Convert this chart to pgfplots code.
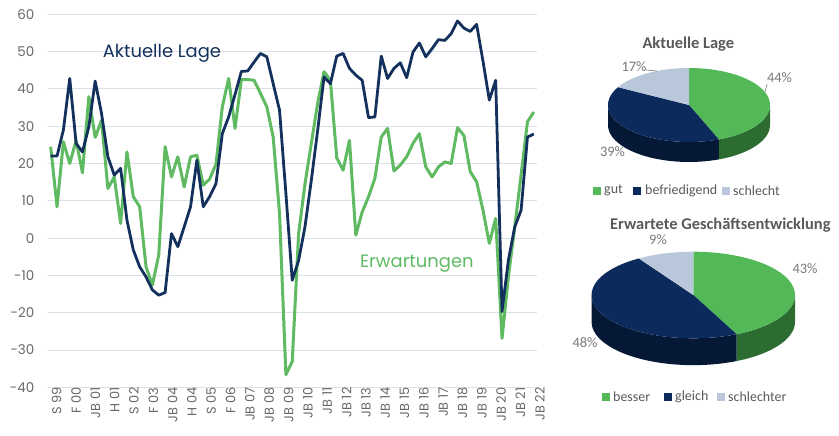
\documentclass[border=0pt]{standalone}
\usepackage{fontspec}
\setmainfont{Poppins}
\newfontfamily\carlito{Carlito}
\usepackage{pgfplots}
\pgfplotsset{compat=1.18}
\usepackage{pgfplotstable}
\definecolor{navy}{RGB}{19,49,92}
\definecolor{lgreen}{RGB}{95,186,98}
\definecolor{axgray}{RGB}{105,105,105}
\definecolor{gridc}{RGB}{217,225,235}
\definecolor{pgreen}{RGB}{82,184,88}
\definecolor{pgreenside}{RGB}{44,108,48}
\definecolor{pnavy}{RGB}{12,43,92}
\definecolor{pnavyside}{RGB}{5,24,54}
\definecolor{plight}{RGB}{184,199,217}
\definecolor{lblgray}{RGB}{120,120,120}
\definecolor{ttlgray}{RGB}{89,89,89}

\pgfplotstableread{
i lage erw
0 22 24.5
1 22 8.4
2 29 25.8
3 42.8 20
4 25.4 26.2
5 23.1 17.5
6 29.8 37.9
7 42.1 27
8 33.4 31.6
9 21.8 13.3
10 16.9 16.4
11 18.7 3.9
12 4.8 23.1
13 -3.2 11.1
14 -7.7 8.4
15 -10.4 -7.7
16 -13.9 -12.6
17 -15.3 -4.5
18 -14.6 24.5
19 1.2 16.4
20 -2.3 21.8
21 3 13.7
22 8.4 21.8
23 20.9 22.2
24 8.4 14.2
25 11.1 15.8
26 14.6 19.8
27 28 35.2
28 32.5 42.8
29 38.5 29.4
30 44.7 42.5
31 44.8 42.5
32 47.2 42.3
33 49.5 38.8
34 48.6 35.2
35 41.4 27.1
36 34.3 6.6
37 12 -36.6
38 -11.3 -33.1
39 -6 1.2
40 3 14.5
41 15.5 25.4
42 28.9 36.2
43 43.2 44.6
44 41.4 42.3
45 48.8 21.5
46 49.5 18.2
47 45.5 26.2
48 43.7 0.8
49 42.3 7
50 32.3 11.1
51 32.5 16
52 48.8 27.1
53 42.8 29.4
54 45.5 18
55 47 19.6
56 43 21.8
57 49.9 25.4
58 52.3 28
59 48.6 19.1
60 50.8 16.4
61 53.2 19.1
62 53 20.4
63 54.8 20
64 58.2 29.6
65 56.3 27.5
66 55.4 17.8
67 57.3 15.1
68 47.5 7.5
69 37 -1.4
70 42.3 5.3
71 -19.7 -26.9
72 -5.9 -10.4
73 3 3
74 7.5 17
75 27.1 31.2
76 27.9 33.8
}\datatab

% pie shares (percent)
\def\pAgut{44}\def\pAbef{39}\def\pAsch{17}
\def\pBbes{43}\def\pBgle{48}\def\pBsch{9}
\pgfmathsetmacro\Aone{90-3.6*\pAgut}
\pgfmathsetmacro\Atwo{\Aone-3.6*\pAbef}
\pgfmathsetmacro\Athree{\Atwo-3.6*\pAsch}
\pgfmathsetmacro\Bone{90-3.6*\pBbes}
\pgfmathsetmacro\Btwo{\Bone-3.6*\pBgle}
\pgfmathsetmacro\Bthree{\Btwo-3.6*\pBsch}
\def\dA{0.54}
\def\dB{0.62}

\begin{document}
\begin{tikzpicture}
\useasboundingbox (0,0) rectangle (839bp,-436bp);
\begin{axis}[
  at={(47.5bp,-387.3bp)}, anchor=south west,
  scale only axis, width=489.5bp, height=373bp,
  xmin=-0.5, xmax=76.5, ymin=-40, ymax=60,
  axis line style={draw=none},
  ytick={-40,-30,...,60},
  yticklabels={-40,-30,-20,-10,0,10,20,30,40,50,60},
  ymajorgrids, major grid style={gridc, line width=0.9bp},
  major tick length=0pt,
  xtick={0,3.04,6.08,9.12,12.16,15.2,18.24,21.28,24.32,27.36,30.4,33.44,36.48,39.52,42.56,45.6,48.64,51.68,54.72,57.76,60.8,63.84,66.88,69.92,72.96,76},
  xticklabels={S 99,F 00,JB 01,H 01,S 02,F 03,JB 04,H 04,S 05,F 06,JB 07,JB 08,JB 09,JB 10,JB 11,JB 12,JB 13,JB 14,JB 15,JB 16,JB 17,JB 18,JB 19,JB 20,JB 21,JB 22},
  xticklabel style={rotate=90, anchor=east, inner sep=0pt, yshift=-6bp, font=\fontsize{13}{13}\selectfont, text=axgray},
  yticklabel style={anchor=east, inner sep=0pt, xshift=-13bp, font=\fontsize{13.5}{13.5}\selectfont, text=axgray},
  clip=false,
]
\addplot[lgreen, line width=3bp, line join=round] table[x=i,y=erw]{\datatab};
\addplot[navy, line width=2.8bp, line join=round] table[x=i,y=lage]{\datatab};
\node[navy, font=\fontsize{18}{18}\selectfont] at (axis cs:17.5,49.5) {Aktuelle Lage};
\node[lgreen, font=\fontsize{18}{18}\selectfont] at (axis cs:57.6,-6.8) {Erwartungen};
\end{axis}

% Pie 1: Aktuelle Lage
\begin{axis}[at={(608bp,-142bp)}, anchor=south west, scale only axis,
  width=162bp, height=74bp, xmin=-1, xmax=1, ymin=-1, ymax=1, hide axis, clip=false]
\fill[pgreenside] plot[variable=\t,domain=0:\Aone,samples=40] ({cos(\t)},{sin(\t)}) -- plot[variable=\t,domain=\Aone:0,samples=40] ({cos(\t)},{sin(\t)-\dA}) -- cycle;
\fill[pnavyside] plot[variable=\t,domain=\Aone:-180,samples=60] ({cos(\t)},{sin(\t)}) -- plot[variable=\t,domain=-180:\Aone,samples=60] ({cos(\t)},{sin(\t)-\dA}) -- cycle;
\fill[pgreen] (0,0) -- plot[variable=\t,domain=90:\Aone,samples=60] ({cos(\t)},{sin(\t)}) -- cycle;
\fill[pnavy] (0,0) -- plot[variable=\t,domain=\Aone:\Atwo,samples=60] ({cos(\t)},{sin(\t)}) -- cycle;
\fill[plight] (0,0) -- plot[variable=\t,domain=\Atwo:\Athree,samples=30] ({cos(\t)},{sin(\t)}) -- cycle;
\end{axis}

% Pie 2: Erwartete Geschaeftsentwicklung
\begin{axis}[at={(591.6bp,-338.3bp)}, anchor=south west, scale only axis,
  width=203.4bp, height=86.6bp, xmin=-1, xmax=1, ymin=-1, ymax=1, hide axis, clip=false]
\fill[pgreenside] plot[variable=\t,domain=0:\Bone,samples=40] ({cos(\t)},{sin(\t)}) -- plot[variable=\t,domain=\Bone:0,samples=40] ({cos(\t)},{sin(\t)-\dB}) -- cycle;
\fill[pnavyside] plot[variable=\t,domain=\Bone:-180,samples=60] ({cos(\t)},{sin(\t)}) -- plot[variable=\t,domain=-180:\Bone,samples=60] ({cos(\t)},{sin(\t)-\dB}) -- cycle;
\fill[pgreen] (0,0) -- plot[variable=\t,domain=90:\Bone,samples=60] ({cos(\t)},{sin(\t)}) -- cycle;
\fill[pnavy] (0,0) -- plot[variable=\t,domain=\Bone:\Btwo,samples=60] ({cos(\t)},{sin(\t)}) -- cycle;
\fill[plight] (0,0) -- plot[variable=\t,domain=\Btwo:\Bthree,samples=30] ({cos(\t)},{sin(\t)}) -- cycle;
\end{axis}

% pie texts
\node[font=\carlito\bfseries\fontsize{16.5}{16.5}\selectfont, text=ttlgray] at (688.3bp,-44bp) {Aktuelle Lage};
\node[font=\carlito\bfseries\fontsize{16.5}{16.5}\selectfont, text=ttlgray, anchor=west, inner sep=0pt] at (610bp,-225bp) {Erwartete Geschäftsentwicklung};
\begin{scope}[every node/.style={font=\carlito\fontsize{14.5}{14.5}\selectfont, text=lblgray, inner sep=0pt}]
\node at (779.5bp,-77.3bp) {\pAgut\%};
\node at (634bp,-66.7bp) {\pAsch\%};
\node at (612.5bp,-151.7bp) {\pAbef\%};
\node at (805bp,-268.3bp) {\pBbes\%};
\node at (658bp,-240bp) {\pBsch\%};
\node at (585bp,-342.3bp) {\pBgle\%};
\end{scope}
\draw[lblgray, line width=0.6bp] (646bp,-70bp) -- (657bp,-71bp);
\draw[lblgray, line width=0.6bp] (767bp,-84bp) -- (765bp,-92bp);
% legends
\begin{scope}[every node/.style={font=\carlito\fontsize{14}{14}\selectfont, text=ttlgray, inner sep=0pt, anchor=west}]
\fill[pgreen] (593bp,-186.7bp) rectangle (601bp,-194.7bp);
\node at (604bp,-190.7bp) {gut};
\fill[pnavy] (633bp,-186.7bp) rectangle (641bp,-194.7bp);
\node at (645bp,-190.7bp) {befriedigend};
\fill[plight] (722bp,-186.7bp) rectangle (730bp,-194.7bp);
\node at (733bp,-190.7bp) {schlecht};
\fill[pgreen] (602bp,-392.7bp) rectangle (610bp,-400.7bp);
\node at (613bp,-396.7bp) {besser};
\fill[pnavy] (664bp,-392.7bp) rectangle (672bp,-400.7bp);
\node at (675bp,-396.7bp) {gleich};
\fill[plight] (717bp,-392.7bp) rectangle (725bp,-400.7bp);
\node at (728bp,-396.7bp) {schlechter};
\end{scope}
\end{tikzpicture}
\end{document}
